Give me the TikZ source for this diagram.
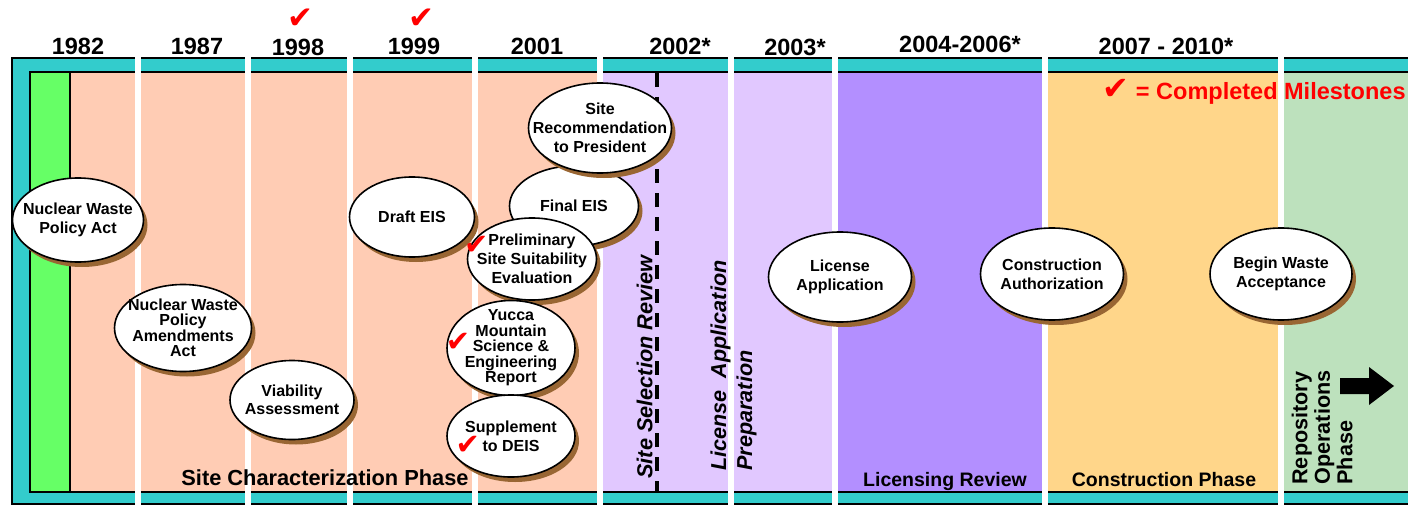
\documentclass[tikz,border=0pt]{standalone}
\usepackage{fontspec}
\setmainfont{Liberation Sans}
\newfontfamily\checkfont{DejaVu Sans}
\usetikzlibrary{shapes.geometric,shadows}

\definecolor{frameteal}{HTML}{33CCCC}
\definecolor{actgreen}{HTML}{66FF66}
\definecolor{charpeach}{HTML}{FFCCB4}
\definecolor{prepviolet}{HTML}{E1C8FF}
\definecolor{reviewviolet}{HTML}{B38FFF}
\definecolor{buildorange}{HTML}{FFD68A}
\definecolor{opsgreen}{HTML}{BDE1BD}
\definecolor{shadowbrown}{HTML}{996633}
\definecolor{checkred}{HTML}{FF0000}

\newcommand{\chk}[1][15.5]{{\checkfont\fontsize{#1}{#1}\selectfont\color{checkred}✔}}

\begin{document}
\begin{tikzpicture}[
x=0.5pt,y=-0.5pt,
font=\bfseries,
milestone/.style={ellipse,draw=black,line width=0.8pt,fill=white,inner sep=-12pt,align=center,
  font=\bfseries\fontsize{8}{9.5}\selectfont,
  drop shadow={shadow xshift=2pt,shadow yshift=-2.5pt,fill=shadowbrown,opacity=1}},
tight/.style={font=\bfseries\fontsize{8}{7.75}\selectfont},
year/.style={anchor=base,inner sep=0pt,font=\bfseries\fontsize{11.75}{12}\selectfont},
phase/.style={anchor=base,inner sep=0pt,font=\bfseries\fontsize{9.75}{10}\selectfont},
sideways/.style={rotate=90,anchor=south west,inner sep=0pt,align=left},
gap/.style={fill=white},
frameline/.style={draw=black,line width=1pt}
]
\useasboundingbox (0,0) rectangle (1408,508);

% Draw frame and phase columns
\fill[frameteal] (12,58) rectangle (1420,504);
\fill[actgreen] (30,72) rectangle (70,492);
\fill[charpeach] (70,72) rectangle (600,492);
\fill[prepviolet] (600,72) rectangle (835,492);
\fill[reviewviolet] (835,72) rectangle (1045,492);
\fill[buildorange] (1045,72) rectangle (1280,492);
\fill[opsgreen] (1280,72) rectangle (1420,492);
\draw[frameline] (12,58) rectangle (1420,504);
\draw[frameline] (30,72) rectangle (1420,492);
\draw[frameline] (70,72) -- (70,492);

% Cut the white gaps between the years
\foreach \gx in {138,248,350,475,600,731,835,1045,1280.5}{
  \coordinate (g1) at (\gx-3,54);
  \coordinate (g2) at (\gx+3,508);
  \fill[gap] (g1) rectangle (g2);
}

% Years
\foreach \yx/\yy/\ytext [count=\i] in {78/55/1982,197/55/1987,298/56/1998,414/55/1999,537/55/2001,680/55/2002*,795/56/2003*,960/53/2004-2006*,1166/55/2007 - 2010*}
  \node[year] (year\i) at (\yx,\yy) {\ytext};

\node[inner sep=0pt] (chk1998) at (300,19) {\chk};
\node[inner sep=0pt] (chk1999) at (421,19) {\chk};

% Legend
\node[anchor=base east,inner sep=0pt,text=checkred,font=\bfseries\fontsize{11.75}{12}\selectfont] (legend) at (1406,100) {\chk[16]\ = Completed Milestones};

% Site selection review line
\coordinate (reviewtop) at (657,73);
\coordinate (reviewbot) at (657,491);
\draw[line width=2pt,dash pattern=on 7pt off 5pt] (reviewtop) -- (reviewbot);

% Draw milestones
\node[milestone,minimum width=65.5pt,minimum height=42pt] (nwpa) at (78,220) {Nuclear Waste\\Policy Act};
\node[milestone,tight,minimum width=68.5pt,minimum height=43.5pt] (nwpaa) at (183,328) {Nuclear Waste\\Policy\\Amendments\\Act};
\node[milestone,font=\bfseries\fontsize{8}{8.75}\selectfont,minimum width=62pt,minimum height=39.5pt] (via) at (292,400) {Viability\\Assessment};
\node[milestone,minimum width=62.5pt,minimum height=40pt] (deis) at (412,217) {Draft EIS};
\node[milestone,minimum width=64.5pt,minimum height=40pt] (feis) at (574,206) {Final EIS};
\node[milestone,minimum width=71.5pt,minimum height=45pt] (siterec) at (600,128) {Site\\Recommendation\\to President};
\node[milestone,minimum width=64.5pt,minimum height=41pt] (psse) at (532,259) {\llap{\smash{\raisebox{-4.5pt}{\chk[14.5]}}}Preliminary\\Site Suitability\\Evaluation};
\node[milestone,tight,minimum width=64pt,minimum height=47.5pt] (ymser) at (511,348) {Yucca\\Mountain\\\llap{\smash{\chk[14.5]}\,}Science \&\\Engineering\\Report};
\node[milestone,minimum width=64pt,minimum height=41pt] (sdeis) at (511,436) {Supplement\\\llap{\smash{\raisebox{-1.5pt}{\chk[14.5]}}\,}to DEIS};
\node[milestone,minimum width=71.5pt,minimum height=45pt] (licapp) at (840,277) {License\\Application};
\node[milestone,minimum width=71.5pt,minimum height=46pt] (conauth) at (1052,274) {Construction\\Authorization};
\node[milestone,minimum width=71pt,minimum height=46pt] (bwa) at (1281,274) {Begin Waste\\Acceptance};

% Phase labels
\node[phase,font=\bfseries\fontsize{10.9}{11}\selectfont] (charphase) at (325,485) {Site Characterization Phase};
\node[phase] (licphase) at (945,486) {Licensing Review};
\node[phase] (buildphase) at (1164,486) {Construction Phase};

\node[sideways,font=\bfseries\itshape\fontsize{10.85}{11}\selectfont] (ssr) at (653,479) {Site Selection Review};
\node[sideways,font=\bfseries\itshape\fontsize{10.8}{13}\selectfont] (lap) at (757,471) {License~~Application\\Preparation};
\node[sideways,font=\bfseries\fontsize{10.8}{11.25}\selectfont] (ops) at (1353,485) {Repository\\Operations\\Phase};

% Draw arrow for operations phase
\coordinate (opsarrow) at (1340,386);
\fill[black] (opsarrow) ++(0,-8) -- ++(29,0) -- ++(0,-11) -- ++(25,19) -- ++(-25,19) -- ++(0,-11) -- ++(-29,0) -- cycle;

\end{tikzpicture}
\end{document}
